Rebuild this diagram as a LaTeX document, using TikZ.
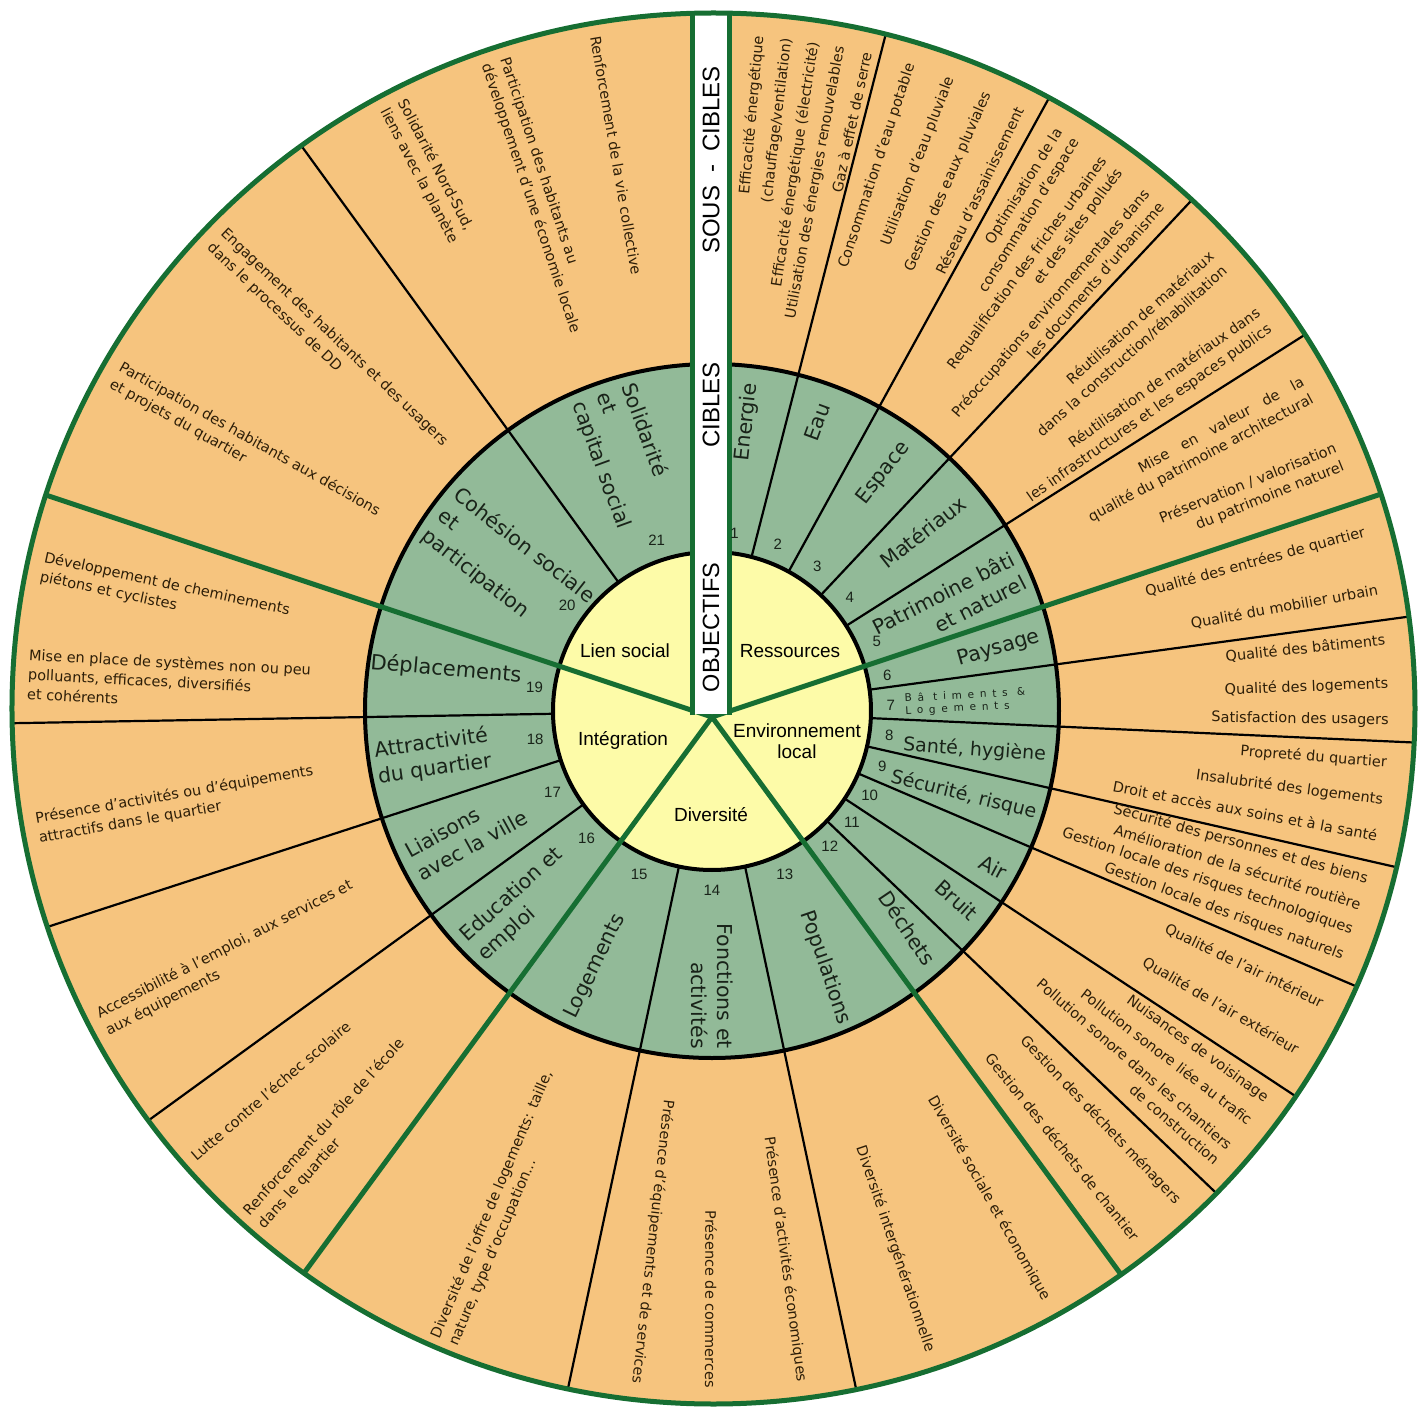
\documentclass[tikz,border=0pt]{standalone}
\usepackage{fontspec}
\setmainfont{DejaVu Sans}
\newfontfamily\arialfont{Liberation Sans}
\newfontfamily\spacedfont[LetterSpace=55]{DejaVu Sans}
\definecolor{orng}{RGB}{246,196,126}
\definecolor{sage}{RGB}{146,186,152}
\definecolor{yel}{RGB}{253,251,168}
\definecolor{dgreen}{RGB}{22,110,50}
\definecolor{subtxt}{RGB}{45,30,8}
\definecolor{lbltxt}{RGB}{25,35,25}
\newcommand\subsize{\fontsize{14.5}{19.5}\selectfont}
\newcommand\lblsize{\fontsize{20.5}{26}\selectfont}
\begin{document}
\begin{tikzpicture}[x=1pt,y=1pt,
  cibline/.style={draw=black,line width=2.2},
  ringline/.style={draw=black,line width=4},
  spoke/.style={draw=dgreen,line width=5},
  subR/.style={anchor=east,inner sep=0pt,text=subtxt,font=\subsize,align=right},
  subL/.style={anchor=west,inner sep=0pt,text=subtxt,font=\subsize,align=left},
  lblR/.style={anchor=east,inner sep=0pt,text=lbltxt,font=\lblsize,align=right},
  lblL/.style={anchor=west,inner sep=0pt,text=lbltxt,font=\lblsize,align=left},
  num/.style={inner sep=0pt,text=lbltxt,font=\arialfont\fontsize{15}{15}\selectfont},
  obj/.style={inner sep=0pt,text=black,font=\arialfont\fontsize{19}{21}\selectfont,align=center},
  bartext/.style={inner sep=0pt,rotate=90,text=black,font=\arialfont\fontsize{24}{24}\selectfont}
]
\useasboundingbox (-712,-708) rectangle (715,711);

% ---- discs, rings, separators
\begin{scope}
  \clip (1.5,2.5) ellipse [x radius=701.5,y radius=695.5];
  \fill[orng] (-720,-720) rectangle (720,720);
  \fill[sage] (0,0) circle [radius=347];
  \fill[yel] (0,0) circle [radius=159];
  \foreach \a in {75.6,61.2,46.8,32.4,7.714,-2.571,-12.857,-23.143,-33.429,-43.714,-78,-102,-144,-162,181,126}
    \draw[cibline] (\a:159) -- (\a:760);
  \draw[ringline] (0,0) circle [radius=347] (0,0) circle [radius=159];
  \foreach \a in {18,-54,-126,162}
    \draw[spoke] (0,-6) -- (\a:760);
  \fill[white] (-19.5,-3) rectangle (17.5,760);
  \draw[spoke] (-19.5,-4) -- (-19.5,760) (17.5,-4) -- (17.5,760);
\end{scope}
\draw[dgreen,line width=5] (1.5,2.5) ellipse [x radius=701.5,y radius=695.5];

% ---- white bar texts
\node[bartext] (b1) at (-1,551) {SOUS\hspace{13pt}-\hspace{13pt}CIBLES};
\node[bartext] (b2) at (-1,306) {CIBLES};
\node[bartext,font=\arialfont\fontsize{23.5}{24}\selectfont] (b3) at (-1,83.5) {OBJECTIFS};

% ---- objectives
\node[obj] (o1) at (-87,60) {Lien social};
\node[obj] (o2) at (78,60) {Ressources};
\node[obj] (o3) at (-89,-29) {Intégration};
\node[obj] (o4) at (85,-30) {Environnement\\local};
\node[obj] (o5) at (-1,-104) {Diversité};

% ---- cible numbers
\foreach \a/\nb in {82.8/1,68.4/2,54/3,39.6/4,23/5,11.5/6,1.8/7,-7.71/8,-18/9,-28.29/10,-38.57/11,-48.86/12,-66/13,-90/14,-114/15,-134.5/16,-153/17,-171/18,172.5/19,144/20,108/21}
  \node[num] (n\nb) at (\a:179) {\nb};

% ---- cibles
\node[lblR,rotate=84] (c1) at (83.2:330) {Energie};
\node[lblR,rotate=70] (c2) at (70:327) {Eau};
\node[lblR,rotate=52] (c3) at (54:330) {Espace};
\node[lblR,rotate=38] (c4) at (40:328) {Matériaux};
\node[lblR,rotate=27] (c5) at (24.8:338) {Patrimoine bâti\\et naturel};
\node[lblR,rotate=16] (c6) at (12.8:336) {Paysage};
\node[anchor=west,inner sep=0pt,text=lbltxt,font=\spacedfont\fontsize{10.5}{12.5}\selectfont,align=left,rotate=3] (c7) at (1.8:193) {Bâ timents \&\\Logements};
\node[lblR,font=\fontsize{19}{23}\selectfont,rotate=-4] (c8) at (-7.5:337) {Santé, hygiène};
\node[lblR,font=\fontsize{19}{23}\selectfont,rotate=-14] (c9) at (-17.5:340) {Sécurité, risque};
\node[lblR,rotate=-28] (c10) at (-29:336) {Air};
\node[lblR,rotate=-42] (c11) at (-38:334) {Bruit};
\node[lblR,rotate=-56] (c12) at (-49:334) {Déchets};
\node[lblR,rotate=-71] (c13) at (-67:340) {Populations};
\node[lblR,rotate=-90] (c14) at (-90:338) {Fonctions et\\activités};
\node[lblL,rotate=64] (c15) at (-114.8:338) {Logements};
\node[lblL,rotate=42] (c16) at (-135.3:337) {Education et\\emploi};
\node[lblL,rotate=29] (c17) at (-153:336) {Liaisons\\avec la ville};
\node[lblL,rotate=8] (c18) at (-171:340) {Attractivité\\du quartier};
\node[lblL,font=\fontsize{21}{26}\selectfont,rotate=-5] (c19) at (172:345) {Déplacements};
\node[lblL,rotate=-38] (c20) at (144:336) {Cohésion sociale\\et\\participation};
\node[lblL,rotate=-70] (c21) at (109:336) {Solidarité\\et\\capital social};

% ---- sous-cibles, right half: angle / rotation / text
\foreach \a/\r/\txt [count=\i] in {
  86.0/84.85/Efficacité énergétique,
  83.6/83.05/{(chauffage/ventilation)},
  81.3/81.3/Efficacité énergétique (électricité),
  79.1/79.7/Utilisation des énergies renouvelables,
  76.8/77.95/Gaz à effet de serre,
  72.9/71.6/Consommation d'eau potable,
  69.4/69.0/Utilisation d'eau pluviale,
  66.0/66.4/Gestion des eaux pluviales,
  63.0/64.2/Réseau d'assainissement,
  58.3/58.3/{Optimisation de la\\consommation d'espace},
  53.8/53.8/{Requalification des friches urbaines\\et des sites pollués},
  49.3/49.3/{Préoccupations environnementales dans\\les documents d'urbanisme},
  41.6/41.6/{Réutilisation de matériaux\\dans la construction/réhabilitation},
  35.3/35.3/{Réutilisation de matériaux dans\\les infrastructures et les espaces publics},
  28.3/28.3/{Mise\hspace{1em}en\hspace{1em}valeur\hspace{1em}de\hspace{1em}la\\qualité du patrimoine architectural},
  22.0/22.0/{Préservation / valorisation\\du patrimoine naturel},
  15.3/15.3/Qualité des entrées de quartier,
  10.3/10.3/Qualité du mobilier urbain,
  6.0/6.0/Qualité des bâtiments,
  2.3/2.3/Qualité des logements,
  -0.8/-0.8/Satisfaction des usagers,
  -4.4/-4.4/Propreté du quartier,
  -7.6/-7.6/Insalubrité des logements,
  -10.6/-10.6/Droit et accès aux soins et à la santé,
  -14.4/-15.5/Sécurité des personnes et des biens,
  -16.6/-17.0/Amélioration de la sécurité routière,
  -18.9/-18.6/Gestion locale des risques technologiques,
  -21.2/-20.2/Gestion locale des risques naturels,
  -25.6/-25.6/Qualité de l'air intérieur,
  -30.1/-30.1/Qualité de l'air extérieur,
  -35.0/-35.9/Nuisances de voisinage,
  -37.3/-37.6/Pollution sonore liée au trafic,
  -40.9/-40.9/{Pollution sonore dans les chantiers\\de construction},
  -46.5/-46.5/Gestion des déchets ménagers,
  -51.2/-51.2/Gestion des déchets de chantier,
  -60.4/-60.4/Diversité sociale et économique,
  -71.2/-71.2/Diversité intergénérationnelle,
  -82.4/-82.4/Présence d'activités économiques,
  -90.1/-90.1/Présence de commerces,
  -96.4/-96.4/Présence d'équipements et de services}
  \node[subR,rotate=\r] (sr\i) at (\a:677) {\txt};

% ---- sous-cibles, left half
\foreach \a/\txt [count=\i] in {
  -113.0/{Diversité de l'offre de logements: taille,\\nature, type d'occupation...},
  -132.0/{Renforcement du rôle de l'école\\dans le quartier},
  -139.3/Lutte contre l'échec scolaire,
  -152.9/{Accessibilité à l'emploi, aux services et\\aux équipements},
  -170.1/{Présence d'activités ou d'équipements\\attractifs dans le quartier},
  176.9/{Mise en place de systèmes non ou peu\\polluants, efficaces, diversifiés\\et cohérents},
  167.9/{Développement de cheminements\\piétons et cyclistes},
  150.6/{Participation des habitants aux décisions\\et projets du quartier},
  136.4/{Engagement des habitants et des usagers\\dans le processus de DD},
  117.8/{Solidarité Nord-Sud,\\liens avec la planète},
  108.5/{Participation des habitants au\\développement d'une économie locale},
  99.8/Renforcement de la vie collective}
  \node[subL,rotate=\a+180] (sl\i) at (\a:685) {\txt};
\end{tikzpicture}
\end{document}
